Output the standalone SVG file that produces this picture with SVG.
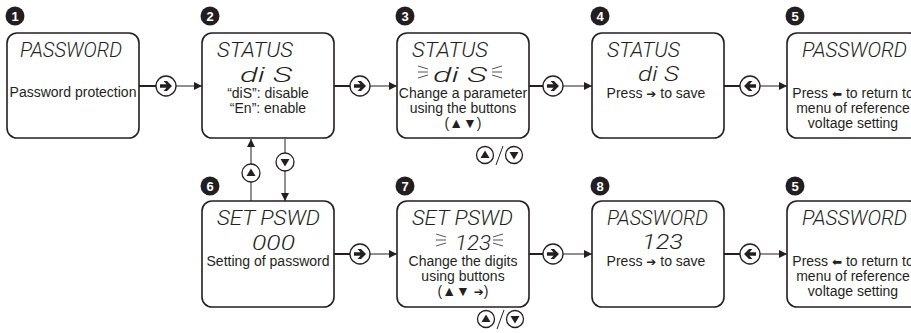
<svg xmlns="http://www.w3.org/2000/svg" width="911" height="333" viewBox="0 0 911 333">
<defs>
<style>
.box{fill:#fff;stroke:#231f20;stroke-width:1.6}
.lcd{font-family:Roboto,"DejaVu Sans",sans-serif;font-style:italic;font-weight:300;fill:#231f20}
.t{font-family:"Liberation Sans",Arial,sans-serif;font-size:14px;fill:#231f20;text-anchor:middle}
.sym{font-family:"DejaVu Sans",sans-serif;font-size:12px}
.badge{fill:#231f20}
.bn{font-family:"Liberation Sans",Arial,sans-serif;font-weight:bold;font-size:13px;fill:#fff;text-anchor:middle}
.thick{stroke:#231f20;stroke-width:2;fill:none}
.thin{stroke:#231f20;stroke-width:1;fill:none}
.btn{fill:#fff;stroke:#231f20;stroke-width:1.3}
.glow{stroke:#555;stroke-width:1;fill:none}
</style>
<marker id="ah" viewBox="0 0 10 10" refX="10" refY="5" markerWidth="8" markerHeight="8" markerUnits="userSpaceOnUse" orient="auto">
<path d="M0,0 L10,5 L0,10 Z" fill="#231f20"/>
</marker>
<path id="ra" d="M-6,-1.8 H0.5 L-2.5,-5 H1 L6,0 L1,5 H-2.5 L0.5,1.8 H-6 Z" fill="#231f20"/>
<path id="la" d="M6,-1.8 H-0.5 L2.5,-5 H-1 L-6,0 L-1,5 H2.5 L-0.5,1.8 H6 Z" fill="#231f20"/>
<path id="up" d="M-4.5,3 L0,-4.5 L4.5,3 Z" fill="#231f20"/>
<path id="dn" d="M-4.5,-3 L0,4.5 L4.5,-3 Z" fill="#231f20"/>
</defs>
<rect width="911" height="333" fill="#fff"/>

<g id="connectors">
<line class="thick" x1="139" y1="86" x2="156" y2="86"/><circle class="btn" cx="166" cy="86" r="10"/><use href="#ra" x="166" y="86"/><line class="thin" x1="176" y1="86" x2="202" y2="86" marker-end="url(#ah)"/>
<line class="thick" x1="334" y1="86" x2="350" y2="86"/><circle class="btn" cx="360" cy="86" r="10"/><use href="#ra" x="360" y="86"/><line class="thin" x1="370" y1="86" x2="397" y2="86" marker-end="url(#ah)"/>
<line class="thick" x1="529" y1="86" x2="543" y2="86"/><circle class="btn" cx="553" cy="86" r="10"/><use href="#ra" x="553" y="86"/><line class="thin" x1="563" y1="86" x2="592" y2="86" marker-end="url(#ah)"/>
<line class="thick" x1="724" y1="86" x2="740" y2="86"/><circle class="btn" cx="750" cy="86" r="10"/><use href="#la" x="750" y="86"/><line class="thin" x1="760" y1="86" x2="787" y2="86" marker-end="url(#ah)"/>
<line class="thick" x1="334" y1="254" x2="350" y2="254"/><circle class="btn" cx="360" cy="254" r="10"/><use href="#ra" x="360" y="254"/><line class="thin" x1="370" y1="254" x2="397" y2="254" marker-end="url(#ah)"/>
<line class="thick" x1="529" y1="254" x2="543" y2="254"/><circle class="btn" cx="553" cy="254" r="10"/><use href="#ra" x="553" y="254"/><line class="thin" x1="563" y1="254" x2="592" y2="254" marker-end="url(#ah)"/>
<line class="thick" x1="724" y1="254" x2="740" y2="254"/><circle class="btn" cx="750" cy="254" r="10"/><use href="#la" x="750" y="254"/><line class="thin" x1="760" y1="254" x2="787" y2="254" marker-end="url(#ah)"/>
<line class="thin" x1="251" y1="201" x2="251" y2="182"/><circle class="btn" cx="251" cy="173" r="9"/><use href="#up" x="251" y="173"/><line class="thin" x1="251" y1="164" x2="251" y2="139" marker-end="url(#ah)"/>
<line class="thin" x1="285" y1="139" x2="285" y2="153"/><circle class="btn" cx="285" cy="162" r="9"/><use href="#dn" x="285" y="162"/><line class="thin" x1="285" y1="171" x2="285" y2="201" marker-end="url(#ah)"/>
</g>

<g id="node1">
<rect class="box" x="7" y="33" width="132" height="105" rx="10"/>
<circle class="badge" cx="15" cy="16" r="9.5"/><text class="bn" x="15" y="20.5">1</text>
<text class="lcd" x="20" y="56.5" font-size="20" textLength="102" lengthAdjust="spacingAndGlyphs">PASSWORD</text>
<text class="t" x="73" y="97">Password protection</text>
</g>

<g id="node2">
<rect class="box" x="202" y="33" width="132" height="105" rx="10"/>
<circle class="badge" cx="210" cy="16" r="9.5"/><text class="bn" x="210" y="20.5">2</text>
<text class="lcd" x="217" y="56.5" font-size="20" textLength="76" lengthAdjust="spacingAndGlyphs">STATUS</text>
<text class="lcd" x="240" y="81.5" font-size="21" textLength="52" lengthAdjust="spacingAndGlyphs">di S</text>
<text class="t" x="268" y="98">“diS”: disable</text>
<text class="t" x="268" y="113">“En”: enable</text>
</g>

<g id="node3">
<rect class="box" x="397" y="33" width="132" height="105" rx="10"/>
<circle class="badge" cx="405" cy="16" r="9.5"/><text class="bn" x="405" y="20.5">3</text>
<text class="lcd" x="412" y="56.5" font-size="20" textLength="76" lengthAdjust="spacingAndGlyphs">STATUS</text>
<path class="glow" d="M418,66 L428,69 M418,72 L428,72 M418,78 L428,75 M492,69 L502,66 M492,72 L502,72 M492,75 L502,78"/>
<text class="lcd" x="433" y="81.5" font-size="21" textLength="54" lengthAdjust="spacingAndGlyphs">di S</text>
<text class="t" x="463" y="98">Change a parameter</text>
<text class="t" x="463" y="113">using the buttons</text>
<text class="t" x="463" y="128">(▲▼)</text>
<circle class="btn" cx="485" cy="155" r="8.5"/><use href="#up" x="485" y="155"/>
<line class="thin" x1="496" y1="165" x2="503" y2="146" stroke-width="1.3"/>
<circle class="btn" cx="514" cy="155" r="8.5"/><use href="#dn" x="514" y="155"/>
</g>

<g id="node4">
<rect class="box" x="592" y="33" width="132" height="105" rx="10"/>
<circle class="badge" cx="600" cy="16" r="9.5"/><text class="bn" x="600" y="20.5">4</text>
<text class="lcd" x="607" y="56.5" font-size="20" textLength="73" lengthAdjust="spacingAndGlyphs">STATUS</text>
<text class="lcd" x="638" y="80.5" font-size="21" textLength="41" lengthAdjust="spacingAndGlyphs">di S</text>
<text class="t" x="656" y="98">Press <tspan class="sym">➔</tspan> to save</text>
</g>

<g id="node5">
<rect class="box" x="787" y="33" width="132" height="105" rx="10"/>
<circle class="badge" cx="795" cy="16" r="9.5"/><text class="bn" x="795" y="20.5">5</text>
<text class="lcd" x="802" y="56.5" font-size="20" textLength="105" lengthAdjust="spacingAndGlyphs">PASSWORD</text>
<text class="t" x="853" y="98">Press <tspan class="sym">⬅</tspan> to return to</text>
<text class="t" x="853" y="113">menu of reference</text>
<text class="t" x="853" y="128">voltage setting</text>
</g>

<g id="node6">
<rect class="box" x="202" y="201" width="132" height="106" rx="10"/>
<circle class="badge" cx="210" cy="186" r="9.5"/><text class="bn" x="210" y="190.5">6</text>
<text class="lcd" x="217" y="224.5" font-size="20" textLength="103" lengthAdjust="spacingAndGlyphs">SET PSWD</text>
<text class="lcd" x="252" y="249.5" font-size="21" textLength="43" lengthAdjust="spacingAndGlyphs">000</text>
<text class="t" x="268" y="266">Setting of password</text>
</g>

<g id="node7">
<rect class="box" x="397" y="201" width="132" height="106" rx="10"/>
<circle class="badge" cx="405" cy="186" r="9.5"/><text class="bn" x="405" y="190.5">7</text>
<text class="lcd" x="412" y="224.5" font-size="20" textLength="101" lengthAdjust="spacingAndGlyphs">SET PSWD</text>
<path class="glow" d="M436,234 L446,237 M436,240 L446,240 M436,246 L446,243 M493,237 L503,234 M493,240 L503,240 M493,243 L503,246"/>
<text class="lcd" x="455" y="249.5" font-size="21" textLength="36" lengthAdjust="spacingAndGlyphs">123</text>
<text class="t" x="463" y="266">Change the digits</text>
<text class="t" x="463" y="281">using buttons</text>
<text class="t" x="463" y="296">(▲▼ <tspan class="sym">➔</tspan>)</text>
<circle class="btn" cx="486" cy="319" r="8.5"/><use href="#up" x="486" y="319"/>
<line class="thin" x1="497" y1="329" x2="504" y2="310" stroke-width="1.3"/>
<circle class="btn" cx="515" cy="319" r="8.5"/><use href="#dn" x="515" y="319"/>
</g>

<g id="node8">
<rect class="box" x="592" y="201" width="132" height="106" rx="10"/>
<circle class="badge" cx="600" cy="186" r="9.5"/><text class="bn" x="600" y="190.5">8</text>
<text class="lcd" x="607" y="224.5" font-size="20" textLength="101" lengthAdjust="spacingAndGlyphs">PASSWORD</text>
<text class="lcd" x="642" y="248.5" font-size="21" textLength="41" lengthAdjust="spacingAndGlyphs">123</text>
<text class="t" x="656" y="266">Press <tspan class="sym">➔</tspan> to save</text>
</g>

<g id="node5b">
<rect class="box" x="787" y="201" width="132" height="106" rx="10"/>
<circle class="badge" cx="795" cy="186" r="9.5"/><text class="bn" x="795" y="190.5">5</text>
<text class="lcd" x="802" y="224.5" font-size="20" textLength="105" lengthAdjust="spacingAndGlyphs">PASSWORD</text>
<text class="t" x="853" y="266">Press <tspan class="sym">⬅</tspan> to return to</text>
<text class="t" x="853" y="281">menu of reference</text>
<text class="t" x="853" y="296">voltage setting</text>
</g>
</svg>
